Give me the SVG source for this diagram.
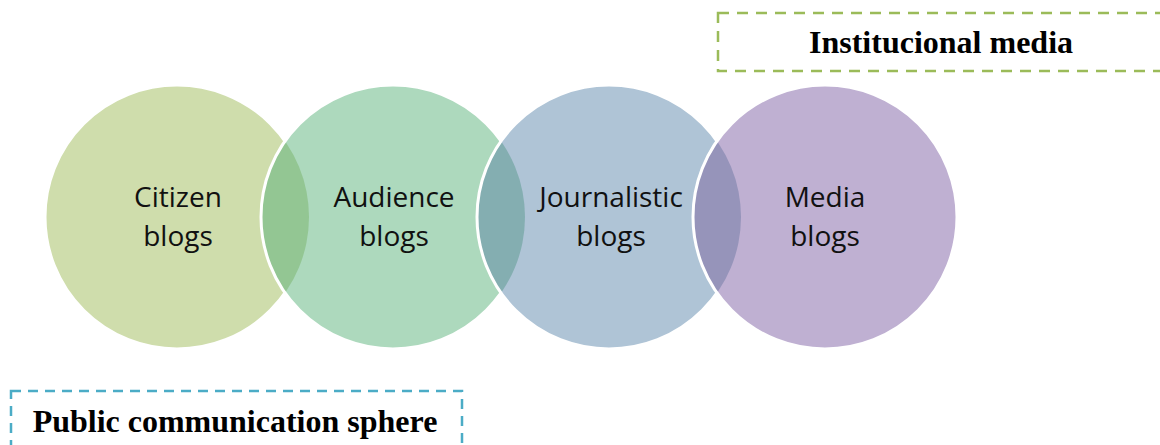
<svg xmlns="http://www.w3.org/2000/svg" width="1160" height="445" viewBox="0 0 1160 445">
<style>
.lbl{font-family:"Open Sans","Liberation Sans",sans-serif;font-size:28px;fill:#111;text-anchor:middle}
.ttl{font-family:"Liberation Serif","Times New Roman",serif;font-size:32px;font-weight:bold;fill:#000;text-anchor:middle}
.ring{fill:none;stroke:#fff;stroke-width:3}
</style>
<defs>
<clipPath id="c1"><circle cx="177" cy="217" r="132"/></clipPath>
<clipPath id="c2"><circle cx="393" cy="217" r="132"/></clipPath>
<clipPath id="c3"><circle cx="609" cy="217" r="132"/></clipPath>
</defs>
<rect width="1160" height="445" fill="#fff"/>
<g id="box-institucional">
<rect x="718" y="13" width="460" height="58" fill="none" stroke="#9BBB59" stroke-width="2.5" stroke-dasharray="11 8"/>
<text class="ttl" x="941" y="53">Institucional media</text>
</g>
<g id="box-public">
<rect x="11" y="391" width="451" height="80" fill="none" stroke="#4BACC6" stroke-width="2.5" stroke-dasharray="10 7"/>
<text class="ttl" x="235" y="432">Public communication sphere</text>
</g>
<g id="node-citizen">
<circle cx="177" cy="217" r="132" fill="#CFDDAC" stroke="#fff" stroke-width="3"/>
</g>
<g id="node-audience">
<circle cx="393" cy="217" r="132" fill="#ADD9BD"/>
<circle cx="393" cy="217" r="132" fill="#93C693" clip-path="url(#c1)"/>
<circle class="ring" cx="393" cy="217" r="132"/>
</g>
<g id="node-journalistic">
<circle cx="609" cy="217" r="132" fill="#AFC4D6"/>
<circle cx="609" cy="217" r="132" fill="#84AEB1" clip-path="url(#c2)"/>
<circle class="ring" cx="609" cy="217" r="132"/>
</g>
<g id="node-media">
<circle cx="825" cy="217" r="132" fill="#BFB0D2"/>
<circle cx="825" cy="217" r="132" fill="#9694BA" clip-path="url(#c3)"/>
<circle class="ring" cx="825" cy="217" r="132"/>
</g>
<g id="labels">
<text class="lbl" x="178" y="207">Citizen</text>
<text class="lbl" x="178" y="246">blogs</text>
<text class="lbl" x="394" y="207">Audience</text>
<text class="lbl" x="394" y="246">blogs</text>
<text class="lbl" x="611" y="207">Journalistic</text>
<text class="lbl" x="611" y="246">blogs</text>
<text class="lbl" x="825" y="207">Media</text>
<text class="lbl" x="825" y="246">blogs</text>
</g>
<g id="connectors"></g>
</svg>
